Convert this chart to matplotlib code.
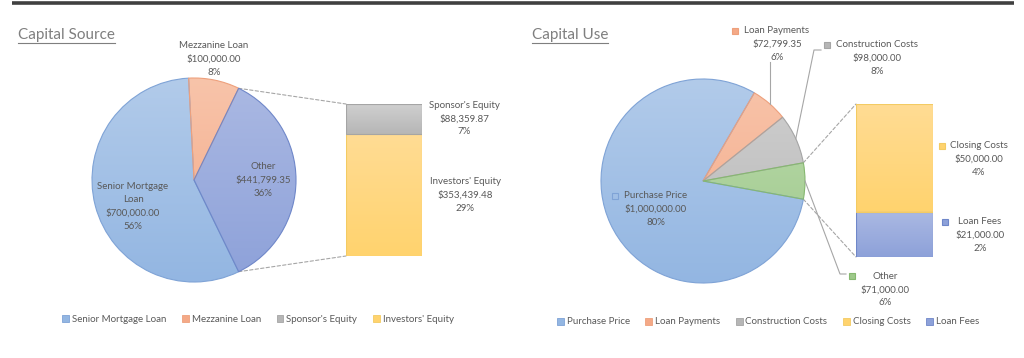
import matplotlib.pyplot as plt
import numpy as np
from matplotlib.patches import Patch, ConnectionPatch
from matplotlib.colors import LinearSegmentedColormap

plt.rcParams['font.family'] = ['Lato', 'DejaVu Sans']

# capital source data
src_pie_labels = ['Senior Mortgage\nLoan', 'Mezzanine Loan', 'Other']
src_pie_values = [700000.00, 100000.00, 441799.35]
src_pie_pct = [56, 8, 36]
src_bar_labels = ["Investors' Equity", "Sponsor's Equity"]  # bottom to top
src_bar_values = [353439.48, 88359.87]
src_bar_pct = [29, 7]
src_legend = ['Senior Mortgage Loan', 'Mezzanine Loan', "Sponsor's Equity", "Investors' Equity"]

# capital use data
use_pie_labels = ['Purchase Price', 'Loan Payments', 'Construction Costs', 'Other']
use_pie_values = [1000000.00, 72799.35, 98000.00, 71000.00]
use_pie_pct = [80, 6, 8, 6]
use_bar_labels = ['Loan Fees', 'Closing Costs']  # bottom to top
use_bar_values = [21000.00, 50000.00]
use_bar_pct = [2, 4]
use_legend = ['Purchase Price', 'Loan Payments', 'Construction Costs', 'Closing Costs', 'Loan Fees']

# gradient colours (top, bottom, edge)
blue = ('#b2cbea', '#93b6e2', '#7fa3d6')
orange = ('#f8c4aa', '#f4a987', '#eea07c')
gray = ('#d0d0d0', '#b6b6b6', '#a5a5a5')
yellow = ('#ffdc94', '#ffd36e', '#f3cb63')
navy = ('#abb9e3', '#8da1d9', '#6f87c9')
green = ('#bbdaad', '#9ec98a', '#86b870')

txt = '#595959'
W, H = 1024, 358

fig = plt.figure(figsize=(W / 100, H / 100), dpi=100)


def px_axes(x0, y0, x1, y1):
    return fig.add_axes([x0 / W, 1 - y1 / H, (x1 - x0) / W, (y1 - y0) / H])


def shade(ax, patch, col, extent):
    cmap = LinearSegmentedColormap.from_list('g', [col[1], col[0]])
    grad = np.linspace(0, 1, 256).reshape(-1, 1)
    im = ax.imshow(grad, cmap=cmap, extent=extent, origin='lower', aspect='auto', zorder=1)
    im.set_clip_path(patch)
    patch.set_facecolor('none')
    patch.set_edgecolor(col[2])
    patch.set_zorder(2)


def draw_pie(center, r, values, cols):
    cx, cy = center
    ax = px_axes(cx - r, cy - r, cx + r, cy + r)
    f_other = values[-1] / sum(values)
    wedges, _ = ax.pie(values, radius=1, startangle=-f_other * 360 / 2, counterclock=False,
                       wedgeprops=dict(linewidth=0.8))
    for w, c in zip(wedges, cols):
        shade(ax, w, c, (-1, 1, -1, 1))
    ax.set_xlim(-1, 1)
    ax.set_ylim(-1, 1)
    ax.axis('off')
    return ax, wedges


def draw_bar(box, values, cols):
    ax = px_axes(*box)
    bottom = 0
    for v, c in zip(values, cols):
        rect = ax.bar(0, v, width=1, bottom=bottom, linewidth=0.8)[0]
        shade(ax, rect, c, (-0.5, 0.5, bottom, bottom + v))
        bottom += v
    ax.set_xlim(-0.5, 0.5)
    ax.set_ylim(0, bottom)
    ax.axis('off')
    return ax


def connect(pie_ax, wedge, bar_ax):
    top = bar_ax.get_ylim()[1]
    for ang, yb in [(wedge.theta2, top), (wedge.theta1, 0)]:
        a = np.deg2rad(ang)
        con = ConnectionPatch(xyA=(np.cos(a), np.sin(a)), coordsA=pie_ax.transData,
                              xyB=(-0.5, yb), coordsB=bar_ax.transData,
                              color='#a6a6a6', lw=0.8, linestyle=(0, (3, 2)), zorder=0)
        fig.add_artist(con)


def lab(name, value, pct):
    return f'{name}\n${value:,.2f}\n{pct}%'


# ---- left: capital source
lpie, lw = draw_pie((194, 180), 102, src_pie_values, [blue, orange, navy])
lbar = draw_bar((346, 104, 422, 256), src_bar_values, [yellow, gray])
connect(lpie, lw[-1], lbar)

# ---- right: capital use
rpie, rw = draw_pie((703, 181), 102, use_pie_values, [blue, orange, gray, green])
rbar = draw_bar((856, 104, 933, 257), use_bar_values, [navy, yellow])
connect(rpie, rw[-1], rbar)

# overlay for text and decorations
ov = fig.add_axes([0, 0, 1, 1])
ov.set_xlim(0, W)
ov.set_ylim(H, 0)
ov.axis('off')
ov.set_zorder(5)

ov.plot([12, 1014], [3, 3], color='#404040', lw=2.6, solid_capstyle='butt')

# titles with underline
for x, t in [(18, 'Capital Source'), (532, 'Capital Use')]:
    ov.text(x, 35, t, fontsize=11, color='#7f7f7f', va='center', ha='left')
fig.canvas.draw()
inv = ov.transData.inverted()
for t in ov.texts:
    bb = t.get_window_extent()
    (x0, _), (x1, _) = inv.transform([(bb.x0, bb.y0), (bb.x1, bb.y0)])
    ov.plot([x0, x1], [43, 43], color='#7f7f7f', lw=0.8)

# left labels
fs = 7
ls = 1.55
src_pos = [(133, 206.5), (214, 59), (263, 180)]
for (x, y), n, v, p in zip(src_pos, src_pie_labels, src_pie_values, src_pie_pct):
    ov.text(x, y, lab(n, v, p), fontsize=fs, color=txt, ha='center', va='center', linespacing=ls)
src_bar_pos = [(465, 195), (464, 118.5)]
for (x, y), n, v, p in zip(src_bar_pos, src_bar_labels, src_bar_values, src_bar_pct):
    ov.text(x, y, lab(n, v, p), fontsize=fs, color=txt, ha='center', va='center', linespacing=ls)

# right labels with keys
use_pos = [(656, 209), (777, 44), (877, 58), (885, 289.5)]
use_keys = [(615, 196), (735, 31), (827, 45), (852, 276)]
use_cols = [blue, orange, gray, green]
for (x, y), (kx, ky), c, n, v, p in zip(use_pos, use_keys, use_cols, use_pie_labels, use_pie_values, use_pie_pct):
    ov.text(x, y, lab(n, v, p), fontsize=fs, color=txt, ha='center', va='center', linespacing=ls)
    ov.plot(kx, ky, marker='s', ms=4.5, mfc=c[1] if n != 'Purchase Price' else 'none', mec=c[2], mew=0.8)
use_bar_pos = [(980, 235), (979, 159)]
use_bar_keys = [(945, 222), (942, 146)]
for (x, y), (kx, ky), c, n, v, p in zip(use_bar_pos, use_bar_keys, [navy, yellow], use_bar_labels, use_bar_values, use_bar_pct):
    ov.text(x, y, lab(n, v, p), fontsize=fs, color=txt, ha='center', va='center', linespacing=ls)
    ov.plot(kx, ky, marker='s', ms=4.5, mfc=c[1], mec=c[2], mew=0.8)

# leader lines
cx, cy, r = 703, 181, 102
leaders = [(1, [(770, 62)]), (2, [(814, 50), (821, 50)]), (3, [(840, 274), (846, 274)])]
for i, pts in leaders:
    a = np.deg2rad((rw[i].theta1 + rw[i].theta2) / 2)
    xs = [cx + r * np.cos(a)] + [p[0] for p in pts]
    ys = [cy - r * np.sin(a)] + [p[1] for p in pts]
    if i == 1:
        xs[1] = xs[0]
    ov.plot(xs, ys, color='#a6a6a6', lw=0.8)

# legends
def legend(names, cols, xc, y):
    handles = [Patch(facecolor=c[1], edgecolor=c[2], lw=0.6) for c in cols]
    ov.legend(handles, names, loc='center', bbox_to_anchor=(xc, y), bbox_transform=ov.transData,
              ncol=len(names), frameon=False, fontsize=7, handlelength=0.7, handleheight=0.7,
              handletextpad=0.3, columnspacing=1.6, labelcolor=txt)
    return ov.get_legend()

l1 = legend(src_legend, [blue, orange, gray, yellow], 258, 319)
ov.add_artist(l1)
legend(use_legend, [blue, orange, gray, yellow, navy], 768, 322)

fig.savefig('out.png', dpi=100)
